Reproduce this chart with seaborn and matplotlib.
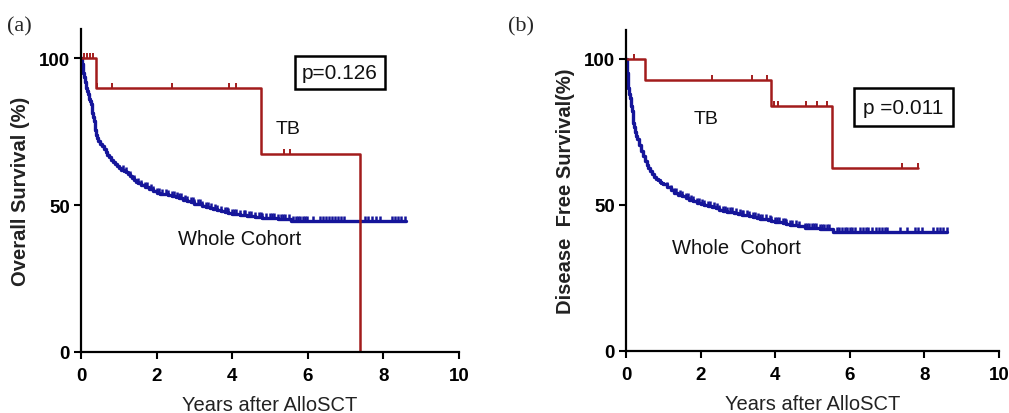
import numpy as np
import pandas as pd
import matplotlib
matplotlib.use("Agg")
import matplotlib.pyplot as plt
from matplotlib.path import Path
import seaborn as sns

# ---------------- Panel (a): Overall survival ----------------
os_whole_t = [0, 0.02, 0.04, 0.06, 0.08, 0.1, 0.12, 0.14, 0.16, 0.18, 0.2, 0.22, 0.24, 0.26,
              0.28, 0.3, 0.32, 0.34, 0.36, 0.38, 0.4, 0.43, 0.46, 0.5, 0.55, 0.6, 0.65, 0.7,
              0.75, 0.8, 0.85, 0.9, 0.95, 1.0, 1.05, 1.1, 1.15, 1.2, 1.25, 1.3, 1.35, 1.4,
              1.45, 1.5, 1.6, 1.7, 1.8, 1.9, 2.0, 2.1, 2.2, 2.3, 2.4, 2.5, 2.6, 2.7, 2.8,
              2.9, 3.0, 3.1, 3.2, 3.3, 3.4, 3.5, 3.6, 3.7, 3.8, 3.9, 4.0, 4.2, 4.4, 4.6,
              4.8, 5.0, 5.2, 5.55, 8.6]
os_whole_s = [100, 98, 96.5, 95, 93.5, 92, 91, 90, 89, 88, 87, 86, 85.3, 84.5,
              83, 81.5, 80, 78.5, 77, 75.5, 74, 72.8, 71.8, 70.8, 70, 69, 68, 67.2,
              66.3, 65.5, 64.7, 64, 63.2, 62.5, 62.1, 61.8, 61.5, 61.1, 60.6, 60, 59.3, 58.6,
              58, 57.5, 56.8, 56, 55.3, 54.7, 54.2, 53.9, 53.6, 53.3, 53.0, 52.7, 52.3, 51.8, 51.3,
              50.9, 50.5, 50.2, 49.8, 49.4, 49.0, 48.7, 48.3, 48.0, 47.7, 47.3, 47.0, 46.6, 46.3,
              46.0, 45.7, 45.5, 45.3, 44.4, 44.4]
os_whole_cens = [1.1, 1.2, 1.3, 1.4, 1.5, 1.6, 1.7, 1.75, 1.85, 1.9, 2.0, 2.05, 2.15, 2.25, 2.3,
                 2.4, 2.45, 2.55, 2.6, 2.65, 2.75, 2.8, 2.9, 2.95, 3.0, 3.1, 3.15, 3.2, 3.3,
                 3.35, 3.45, 3.55, 3.6, 3.7, 3.8, 3.85, 3.9, 4.0, 4.05, 4.1, 4.2, 4.3, 4.35,
                 4.45, 4.5, 4.6, 4.7, 4.75, 4.8, 4.9, 5.0, 5.05, 5.1, 5.2, 5.3, 5.35, 5.4,
                 5.5, 5.62, 5.68, 5.74, 5.8, 5.86, 5.92, 5.98, 6.15, 6.32, 6.4, 6.48, 6.56,
                 6.64, 6.72, 6.8, 6.88, 6.96, 7.51, 7.6, 7.7, 7.8, 7.92, 8.22, 8.3, 8.38,
                 8.46, 8.57]
os_tb_t = [0, 0.40, 4.76, 7.39]
os_tb_s = [100, 90, 67.5, 0]
os_tb_cens = [0.08, 0.17, 0.25, 0.32, 0.42, 0.81, 2.42, 3.91, 4.09, 5.38, 5.53]

# ---------------- Panel (b): Disease free survival ----------------
dfs_whole_t = [0, 0.015, 0.03, 0.045, 0.06, 0.08, 0.1, 0.125, 0.15, 0.175, 0.2, 0.225, 0.25,
               0.275, 0.3, 0.35, 0.4, 0.45, 0.5, 0.55, 0.6, 0.65, 0.7, 0.75, 0.8, 0.85, 0.9,
               0.95, 1.0, 1.1, 1.2, 1.3, 1.4, 1.5, 1.6, 1.7, 1.8, 1.9, 2.0, 2.1, 2.2, 2.3,
               2.4, 2.5, 2.6, 2.7, 2.8, 2.9, 3.0, 3.1, 3.2, 3.3, 3.4, 3.5, 3.6, 3.7, 3.8,
               3.9, 4.0, 4.1, 4.2, 4.3, 4.4, 4.5, 4.6, 4.8, 5.2, 5.55, 8.6]
dfs_whole_s = [100, 97, 95, 92.5, 90, 88, 86.5, 84, 82, 80, 78, 76.5, 75,
               73.7, 72.5, 70.5, 68.5, 66.7, 65, 63.7, 62.5, 61.5, 60.5, 59.7, 59, 58.5, 58,
               57.5, 57, 56, 55, 54.2, 53.5, 52.9, 52.3, 51.7, 51.2, 50.7, 50.3, 49.9, 49.5, 49.1,
               48.8, 48.4, 48.0, 47.7, 47.4, 47.2, 47.0, 46.7, 46.5, 46.2, 45.9, 45.6, 45.3, 45.0, 44.8,
               44.5, 44.2, 44.0, 43.7, 43.5, 43.2, 43.0, 42.8, 42.0, 41.7, 40.6, 40.6]
dfs_whole_cens = [1.1, 1.2, 1.3, 1.35, 1.45, 1.5, 1.6, 1.65, 1.75, 1.8, 1.9, 1.95, 2.05, 2.1,
                  2.2, 2.25, 2.35, 2.45, 2.5, 2.6, 2.65, 2.7, 2.8, 2.85, 2.95, 3.05, 3.1,
                  3.15, 3.25, 3.3, 3.4, 3.45, 3.55, 3.6, 3.65, 3.75, 3.85, 3.9, 4.0, 4.05,
                  4.1, 4.2, 4.25, 4.3, 4.4, 4.45, 4.55, 4.65, 4.8, 4.85, 4.9, 5.0, 5.05, 5.1,
                  5.2, 5.25, 5.3, 5.4, 5.45, 5.65, 5.72, 5.79, 5.86, 5.93, 6.0, 6.07, 6.14,
                  6.27, 6.35, 6.43, 6.5, 6.6, 6.7, 6.78, 6.86, 6.94, 6.99, 7.35, 7.52, 7.75,
                  7.84, 7.93, 8.24, 8.33, 8.42, 8.51, 8.6]
dfs_tb_t = [0, 0.50, 3.88, 5.52, 7.82]
dfs_tb_s = [100, 92.8, 83.7, 62.7, 62.7]
dfs_tb_cens = [0.22, 2.30, 3.37, 3.77, 3.97, 4.07, 4.82, 5.13, 5.38, 7.39, 7.82]

BLUE = "#15159a"
RED = "#a21c1c"

sns.set_theme(style="ticks")
plt.rcParams["font.family"] = ["Liberation Sans", "DejaVu Sans"]

tick_marker = Path([(0, 0), (0, 1)])


def step_value(t, s, c):
    t = np.asarray(t)
    s = np.asarray(s)
    idx = np.searchsorted(t, np.asarray(c), side="right") - 1
    return s[idx]


def draw_km(ax, t, s, cens, color, lw, tick_lw):
    df = pd.DataFrame({"t": t, "s": s})
    sns.lineplot(data=df, x="t", y="s", ax=ax, color=color, lw=lw,
                 drawstyle="steps-post", estimator=None, sort=False)
    cdf = pd.DataFrame({"t": cens, "s": step_value(t, s, cens)})
    sns.scatterplot(data=cdf, x="t", y="s", ax=ax, marker=tick_marker, s=50,
                    color=color, edgecolor=color, linewidth=tick_lw, zorder=3)


fig = plt.figure(figsize=(10.09, 4.14), dpi=100)
ax1 = fig.add_axes([0.0803, 0.148, 0.3746, 0.7795])
ax2 = fig.add_axes([0.6204, 0.150, 0.3697, 0.776])

draw_km(ax1, os_whole_t, os_whole_s, os_whole_cens, BLUE, 2.4, 1.8)
draw_km(ax1, os_tb_t, os_tb_s, os_tb_cens, RED, 1.8, 1.4)
draw_km(ax2, dfs_whole_t, dfs_whole_s, dfs_whole_cens, BLUE, 2.4, 1.8)
draw_km(ax2, dfs_tb_t, dfs_tb_s, dfs_tb_cens, RED, 1.8, 1.4)

for ax, ylab in [(ax1, "Overall Survival (%)"), (ax2, "Disease  Free Survival(%)")]:
    ax.set_xlim(0, 10)
    ax.set_ylim(0, 110)
    ax.set_xticks([0, 2, 4, 6, 8, 10])
    ax.set_yticks([0, 50, 100])
    ax.spines["top"].set_visible(False)
    ax.spines["right"].set_visible(False)
    ax.spines["left"].set_linewidth(1.6)
    ax.spines["bottom"].set_linewidth(1.6)
    ax.spines["left"].set_color("black")
    ax.spines["bottom"].set_color("black")
    ax.tick_params(axis="both", direction="out", length=5, width=1.5, colors="black",
                   labelsize=13.5)
    ax.tick_params(axis="x", pad=6)
    ax.tick_params(axis="y", pad=3)
    for lab in ax.get_xticklabels() + ax.get_yticklabels():
        lab.set_fontweight("bold")
    ax.set_xlabel("Years after AlloSCT", fontsize=14.5, color="#222222", labelpad=8)
    ax.set_ylabel(ylab, fontsize=14.5, fontweight="bold", color="#222222", labelpad=6)
    ax.set_facecolor("white")

# Annotations panel (a)
ax1.text(5.48, 76, "TB", fontsize=14, ha="center", va="center", color="#111111")
ax1.text(4.2, 38.5, "Whole Cohort", fontsize=14.5, ha="center", va="center", color="#111111")
ax1.text(6.85, 95.2, "p=0.126", fontsize=15, ha="center", va="center", color="#111111",
         bbox=dict(boxstyle="square,pad=0.35", fc="white", ec="black", lw=1.8))

# Annotations panel (b)
ax2.text(2.16, 79.5, "TB", fontsize=14, ha="center", va="center", color="#111111")
ax2.text(2.97, 35.3, "Whole  Cohort", fontsize=14.5, ha="center", va="center", color="#111111")
ax2.text(7.44, 83.4, "p =0.011", fontsize=15, ha="center", va="center", color="#111111",
         bbox=dict(boxstyle="square,pad=0.45", fc="white", ec="black", lw=1.8))

fig.text(0.007, 0.935, "(a)", fontsize=16, family=["Liberation Serif", "DejaVu Serif"],
         ha="left", va="center")
fig.text(0.503, 0.935, "(b)", fontsize=16, family=["Liberation Serif", "DejaVu Serif"],
         ha="left", va="center")

fig.savefig("out.png", dpi=100, facecolor="white")
